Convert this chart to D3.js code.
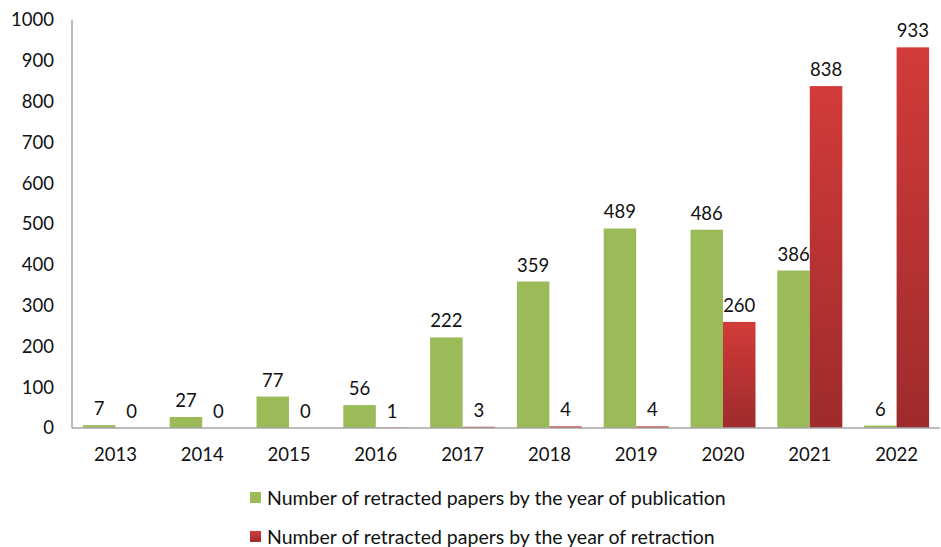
<!DOCTYPE html>
<html>
<head>
<meta charset="utf-8">
<script src="https://cdn.jsdelivr.net/npm/d3@7"></script>
<style>
  body { margin: 0; background: #fff; }
  text { font-family: Lato, "Open Sans", sans-serif; fill: #111; }
</style>
</head>
<body>
<svg></svg>
<script>
const years = ["2013", "2014", "2015", "2016", "2017", "2018", "2019", "2020", "2021", "2022"]
const byPublication = [7, 27, 77, 56, 222, 359, 489, 486, 386, 6]
const byRetraction = [0, 0, 0, 1, 3, 4, 4, 260, 838, 933]
const yTicks = [0, 100, 200, 300, 400, 500, 600, 700, 800, 900, 1000]
const legendLabels = [
  "Number of retracted papers by the year of publication",
  "Number of retracted papers by the year of retraction"
]

const W = 941, H = 547
const svg = d3.select('svg').attr('width', W).attr('height', H)
const fs = 18.5

const defs = svg.append('defs')
const grad = defs.append('linearGradient').attr('id', 'redGrad')
  .attr('x1', 0).attr('y1', 0).attr('x2', 0).attr('y2', 1)
grad.append('stop').attr('offset', '0%').attr('stop-color', '#d23b39')
grad.append('stop').attr('offset', '100%').attr('stop-color', '#9e2b2c')

const x = d3.scaleBand().domain(years).range([72, 940])
const y = d3.scaleLinear().domain([0, 1000]).range([428, 20])
const barW = 32.5

// y axis labels (no tick marks)
svg.append('g').selectAll('text').data(yTicks).join('text')
  .attr('x', 54).attr('y', d => y(d)).attr('dy', '0.35em')
  .attr('text-anchor', 'end').attr('font-size', fs)
  .text(d => d)

// bars
const green = svg.append('g')
green.selectAll('rect').data(byPublication).join('rect')
  .attr('x', (d, i) => x(years[i]) + x.bandwidth() / 2 - barW)
  .attr('y', d => y(d))
  .attr('width', barW)
  .attr('height', d => y(0) - y(d))
  .attr('fill', '#9bbb59')

const red = svg.append('g')
red.selectAll('rect').data(byRetraction).join('rect')
  .attr('x', (d, i) => x(years[i]) + x.bandwidth() / 2)
  .attr('y', d => y(d))
  .attr('width', barW)
  .attr('height', d => y(0) - y(d))
  .attr('fill', 'url(#redGrad)')

// value labels
svg.append('g').selectAll('text').data(byPublication).join('text')
  .attr('x', (d, i) => x(years[i]) + x.bandwidth() / 2 - barW / 2)
  .attr('y', d => y(d) - 10)
  .attr('text-anchor', 'middle').attr('font-size', fs)
  .text(d => d)
svg.append('g').selectAll('text').data(byRetraction).join('text')
  .attr('x', (d, i) => x(years[i]) + x.bandwidth() / 2 + barW / 2)
  .attr('y', d => y(d) - 10)
  .attr('text-anchor', 'middle').attr('font-size', fs)
  .text(d => d)

// axes lines
svg.append('line').attr('x1', 72).attr('x2', 72).attr('y1', 20).attr('y2', 428)
  .attr('stroke', '#a6a6a6').attr('stroke-width', 1.5)
svg.append('line').attr('x1', 72).attr('x2', 940).attr('y1', 428).attr('y2', 428)
  .attr('stroke', '#a6a6a6').attr('stroke-width', 1.5)

// x labels
svg.append('g').selectAll('text').data(years).join('text')
  .attr('x', d => x(d) + x.bandwidth() / 2)
  .attr('y', 461)
  .attr('text-anchor', 'middle').attr('font-size', fs)
  .text(d => d)

// legend
const legend = svg.append('g')
const colors = ['#9bbb59', 'url(#redGrad)']
legendLabels.forEach((lab, i) => {
  const ly = 498 + i * 39
  legend.append('rect').attr('x', 250).attr('y', ly - 6).attr('width', 11).attr('height', 11)
    .attr('fill', colors[i])
  legend.append('text').attr('x', 267).attr('y', ly).attr('dy', '0.35em')
    .attr('font-size', 19.5).text(lab)
})
</script>
</body>
</html>
